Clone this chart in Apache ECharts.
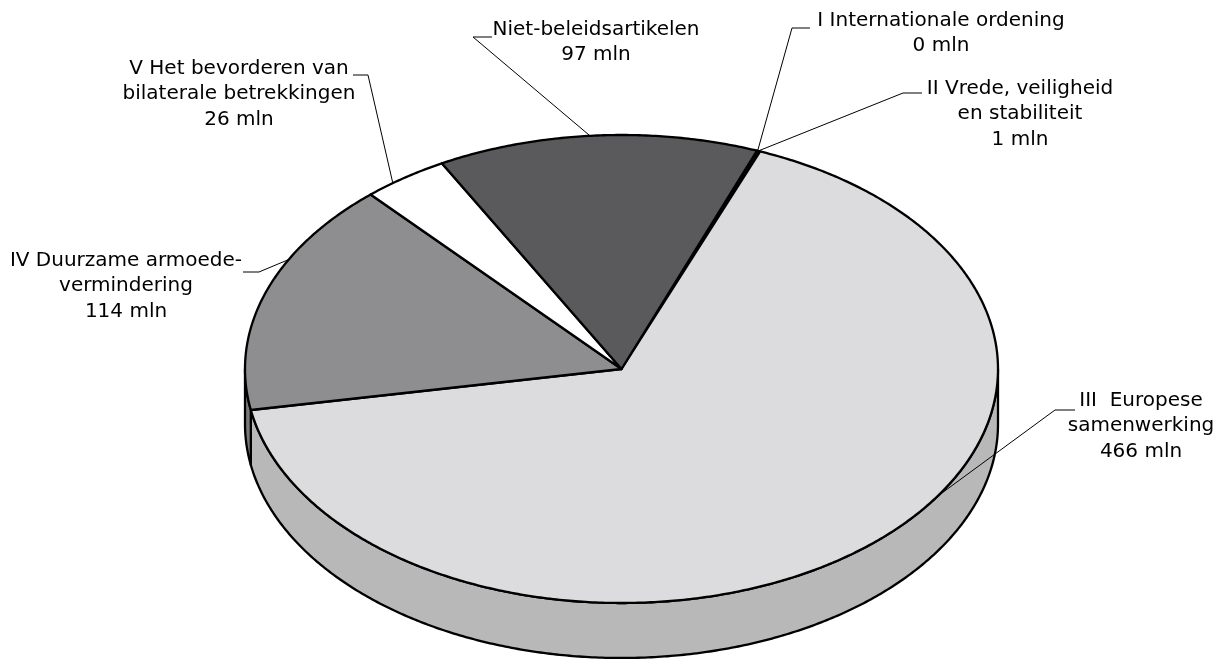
<!DOCTYPE html>
<html>
<head>
<meta charset="utf-8">
<script src="https://cdn.jsdelivr.net/npm/echarts@6/dist/echarts.min.js"></script>
<style>
  html, body { margin: 0; padding: 0; background: #fff; }
  #chart { width: 1218px; height: 659px; }
</style>
</head>
<body>
<div id="chart"></div>
<script>
// data, clockwise from the first slice
const categories = [
  'I Internationale ordening',
  'II Vrede, veiligheid\nen stabiliteit',
  'III  Europese\nsamenwerking',
  'IV Duurzame armoede-\nvermindering',
  'V Het bevorderen van\nbilaterale betrekkingen',
  'Niet-beleidsartikelen'
];
const values = [0, 1, 466, 114, 26, 97];
const unit = 'mln';

// styles
const topColors = ['#111111', '#111111', '#dcdcde', '#8e8e90', '#ffffff', '#5a5a5c'];
const sideColors = ['#111111', '#111111', '#b8b8b9', '#7a7a7c', '#d8d8d8', '#484849'];

// pie layout (tilted disc)
const pie = { cx: 621.5, cy: 369, rx: 376.5, ry: 234, depth: 55, start: 21.1 };

// label layout: text centre x / top y, leader start, elbow, rim angle (deg clockwise from 12 o'clock)
const labelLayout = [
  { x: 941, y: 8, from: [810, 28], elbow: [792, 28], rim: 21.2 },
  { x: 1020, y: 76, from: [922, 93], elbow: [903, 93], rim: 21.3 },
  { x: 1141, y: 388, from: [1075, 410], elbow: [1055, 410], rim: 123 },
  { x: 126, y: 248, from: [243, 272], elbow: [259, 272], rim: 297.9 },
  { x: 239, y: 56, from: [353, 75], elbow: [368, 75], rim: 322.6 },
  { x: 596, y: 17, from: [492, 37], elbow: [473, 37], rim: 355.2 }
];

const total = values.reduce((a, b) => a + b, 0);

function rimPoint(deg, dy) {
  const t = deg * Math.PI / 180;
  return [pie.cx + pie.rx * Math.sin(t), pie.cy - pie.ry * Math.cos(t) + (dy || 0)];
}

function arc(a0, a1, dy) {
  const pts = [];
  const n = Math.max(1, Math.ceil(Math.abs(a1 - a0) / 0.5));
  for (let i = 0; i <= n; i++) pts.push(rimPoint(a0 + (a1 - a0) * i / n, dy));
  return pts;
}

function renderItem(params, api) {
  const i = params.dataIndex;
  let before = 0;
  for (let k = 0; k < i; k++) before += values[k];
  const a0 = pie.start + before / total * 360;
  const a1 = a0 + values[i] / total * 360;
  const children = [];

  // visible side wall (front half of the disc)
  for (const k of [0, 360]) {
    const s = Math.max(a0, 90 + k), e = Math.min(a1, 270 + k);
    if (e > s) {
      const pts = arc(s, e, 0).concat(arc(e, s, pie.depth));
      children.push({
        type: 'polygon',
        shape: { points: pts },
        style: { fill: sideColors[i], stroke: '#000', lineWidth: 2.3, lineJoin: 'round' }
      });
    }
  }

  // top face
  children.push({
    type: 'polygon',
    shape: { points: [[pie.cx, pie.cy]].concat(arc(a0, a1, 0)) },
    style: { fill: topColors[i], stroke: '#000', lineWidth: 2.3, lineJoin: 'round' }
  });

  // leader line + label
  const L = labelLayout[i];
  children.push({
    type: 'polyline',
    z2: 10,
    shape: { points: [L.from, L.elbow, rimPoint(L.rim, 0)] },
    style: { stroke: '#000', lineWidth: 1, fill: null }
  });
  children.push({
    type: 'text',
    z2: 11,
    x: L.x,
    y: L.y,
    style: {
      text: categories[i] + '\n' + values[i] + ' ' + unit,
      fill: '#000',
      fontSize: 20,
      fontFamily: '"DejaVu Sans", sans-serif',
      lineHeight: 25.5,
      align: 'center',
      verticalAlign: 'top'
    }
  });

  return { type: 'group', children: children };
}

const chart = echarts.init(document.getElementById('chart'), null, { renderer: 'canvas' });
chart.setOption({
  animation: false,
  backgroundColor: '#ffffff',
  series: [{
    type: 'custom',
    coordinateSystem: 'none',
    silent: true,
    renderItem: renderItem,
    data: values.map((v, i) => ({ name: categories[i], value: v }))
  }]
});
</script>
</body>
</html>
